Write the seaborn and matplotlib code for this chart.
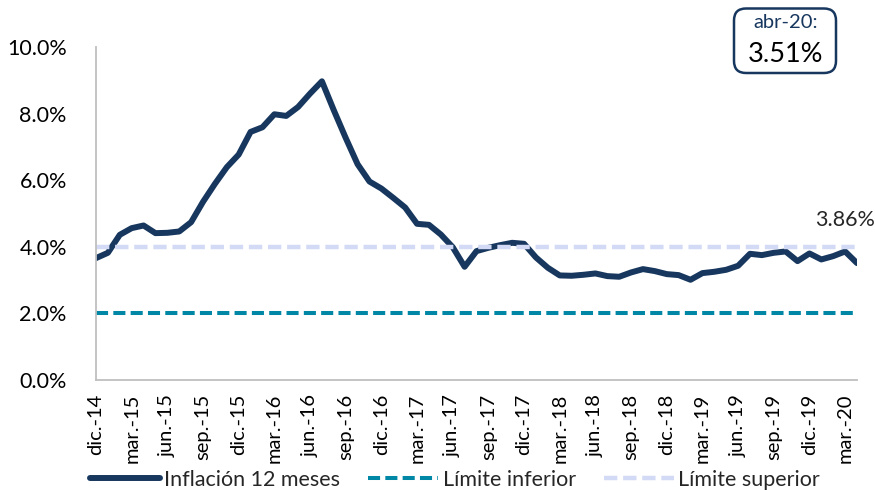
import matplotlib
matplotlib.use('Agg')
import matplotlib.pyplot as plt
from matplotlib.patches import FancyBboxPatch
import seaborn as sns
import numpy as np

# inflación anual (%), dic-14 a abr-20
meses = ['ene.', 'feb.', 'mar.', 'abr.', 'may.', 'jun.',
         'jul.', 'ago.', 'sep.', 'oct.', 'nov.', 'dic.']
inflacion = [3.66,
             3.82, 4.36, 4.56, 4.64, 4.41, 4.42, 4.46, 4.74, 5.35, 5.89, 6.39, 6.77,
             7.45, 7.59, 7.98, 7.93, 8.20, 8.60, 8.97, 8.10, 7.27, 6.48, 5.96, 5.75,
             5.47, 5.18, 4.69, 4.66, 4.37, 3.99, 3.40, 3.87, 3.97, 4.05, 4.12, 4.09,
             3.68, 3.37, 3.14, 3.13, 3.16, 3.20, 3.12, 3.10, 3.23, 3.33, 3.27, 3.18,
             3.15, 3.01, 3.21, 3.25, 3.31, 3.43, 3.79, 3.75, 3.82, 3.86, 3.57, 3.80,
             3.62, 3.72, 3.86, 3.51]
limite_inferior = 2.0
limite_superior = 4.0
y_ticks = [0, 2, 4, 6, 8, 10]

# etiquetas de mes: dic-14 ... abr-20
etiquetas = ['dic.-14']
for anio in range(15, 21):
    for m in meses:
        etiquetas.append(f'{m}-{anio}')
etiquetas = etiquetas[:len(inflacion)]
x = np.arange(len(inflacion))

navy = '#17375E'
teal = '#0087A5'
lav = '#D3DAF6'

sns.set_theme(style='white')
plt.rcParams['font.family'] = ['Lato', 'DejaVu Sans']

fig = plt.figure(figsize=(8.75, 4.9), dpi=100)
ax = fig.add_axes([96/875, 1-380/490, (857-96)/875, (380-47)/490])

sns.lineplot(x=x, y=inflacion, ax=ax, color=navy, lw=4.3,
             label='Inflación 12 meses', solid_joinstyle='round', solid_capstyle='round')
sns.lineplot(x=x, y=[limite_inferior]*len(x), ax=ax, color=teal, lw=2.9,
             dashes=False, label='Límite inferior')
sns.lineplot(x=x, y=[limite_superior]*len(x), ax=ax, color=lav, lw=3.2,
             dashes=False, label='Límite superior')
ax.lines[1].set_dashes([3, 1.3])
ax.lines[2].set_dashes([3, 1.3])

ax.set_xlim(0, len(x)-1)
ax.set_ylim(0, 10)
ax.set_yticks(y_ticks)
ax.set_yticklabels([f'{v:.1f}%' for v in y_ticks])
ax.set_xticks(x[::3])
ax.set_xticklabels(etiquetas[::3], rotation=90)

for s in ['top', 'right']:
    ax.spines[s].set_visible(False)
for s in ['left', 'bottom']:
    ax.spines[s].set_color('#BFBFBF')
    ax.spines[s].set_linewidth(1.3)
ax.tick_params(axis='y', length=0, pad=21, labelsize=15.5, colors='black')
ax.tick_params(axis='x', length=6, width=1.2, color='#BFBFBF', direction='out',
               pad=4, labelsize=14.5, labelcolor='black')
ax.set_xlabel('')
ax.set_ylabel('')

ax.legend(loc='center', bbox_to_anchor=(0.52, 0.021), bbox_transform=fig.transFigure,
          ncol=3, frameon=False, fontsize=15.5, handlelength=3.25, handletextpad=0.2,
          columnspacing=1.3, borderpad=0)

# dato de mar-20
ax.annotate(f'{inflacion[-2]:.2f}%', xy=(x[-2], inflacion[-2]), xytext=(0, 23),
            textcoords='offset points', ha='center', va='center', fontsize=15.5)

# recuadro con el último dato
box = FancyBboxPatch((7.34, 4.17), 1.02, 0.645, boxstyle='round,pad=0,rounding_size=0.12',
                     transform=fig.dpi_scale_trans, fc='white', ec=navy, lw=1.8)
fig.patches.append(box)
fig.text(786/875, 1-23/490, etiquetas[-1].replace('.', '') + ':', ha='center', va='center',
         fontsize=14.5, color=navy)
fig.text(786/875, 1-55/490, f'{inflacion[-1]:.2f}%', ha='center', va='center',
         fontsize=19.5, color='black')

fig.savefig('out.png', dpi=100)
